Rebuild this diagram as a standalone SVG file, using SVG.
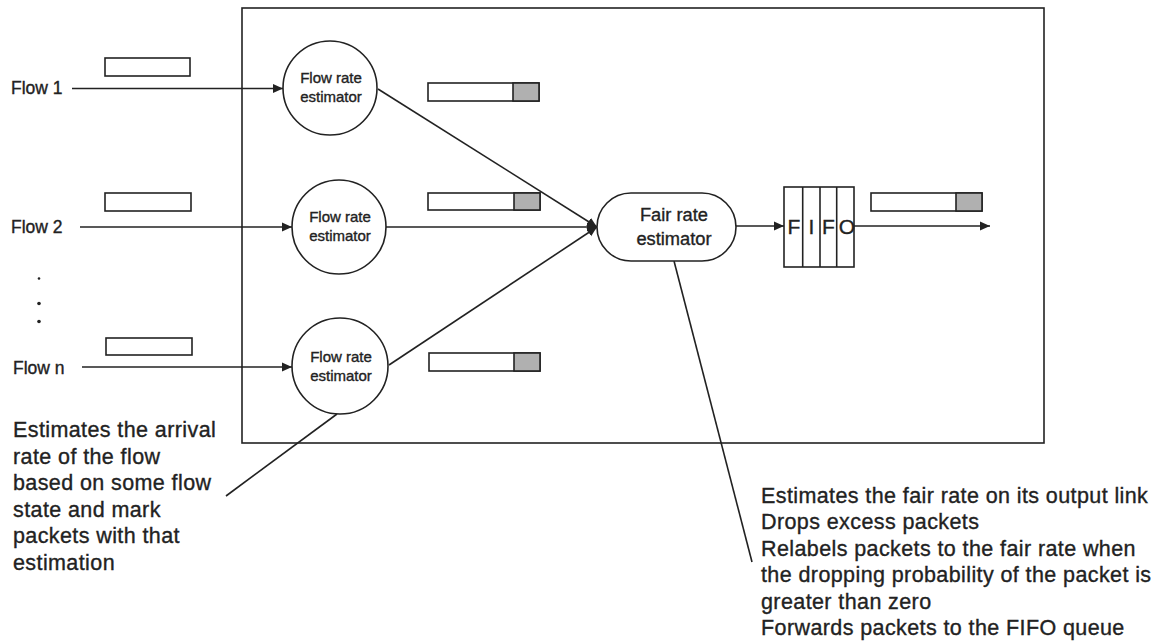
<svg xmlns="http://www.w3.org/2000/svg" width="1164" height="643" viewBox="0 0 1164 643">
<defs>
<marker id="arr" viewBox="0 0 10 10" refX="10" refY="5" markerWidth="10" markerHeight="10" markerUnits="userSpaceOnUse" orient="auto">
<path d="M0,0.5 L10,5 L0,9.5 z" fill="#222"/>
</marker>
</defs>
<style>
.ln{stroke:#222;stroke-width:1.6;fill:none}
.nd{stroke:#222;stroke-width:1.6;fill:#fff}
.pk{stroke:#222;stroke-width:1.6;fill:none}
.sh{stroke:#222;stroke-width:1.6;fill:#b0b0b0}
text{stroke:#222;stroke-width:0.35px}
.ct{font-family:"Liberation Sans",Arial,sans-serif;font-size:15px;fill:#222;text-anchor:middle}
.ft{font-family:"Liberation Sans",Arial,sans-serif;font-size:18.3px;fill:#222;text-anchor:middle}
.fl{font-family:"Liberation Sans",Arial,sans-serif;font-size:17.5px;fill:#222}
.bt{font-family:"Liberation Sans",Arial,sans-serif;font-size:21.5px;letter-spacing:0.4px;fill:#222}
.ff{font-family:"Liberation Sans",Arial,sans-serif;font-size:21px;fill:#222;text-anchor:middle}
</style>
<rect width="1164" height="643" fill="#fff"/>
<g id="router-box">
<rect x="242" y="8" width="802" height="435" class="ln"/>
</g>
<g id="connectors">
<line x1="72" y1="88.5" x2="283" y2="88.5" class="ln" marker-end="url(#arr)"/>
<line x1="80" y1="227" x2="292" y2="227" class="ln" marker-end="url(#arr)"/>
<line x1="82" y1="367" x2="292" y2="367" class="ln" marker-end="url(#arr)"/>
<line x1="378" y1="89" x2="597" y2="227" class="ln" marker-end="url(#arr)"/>
<line x1="386" y1="227" x2="597" y2="227" class="ln" marker-end="url(#arr)"/>
<line x1="389" y1="365" x2="597" y2="227" class="ln" marker-end="url(#arr)"/>
<line x1="736" y1="226" x2="784" y2="226" class="ln" marker-end="url(#arr)"/>
<line x1="854" y1="226" x2="990" y2="226" class="ln" marker-end="url(#arr)"/>
<line x1="674" y1="261" x2="752" y2="562" class="ln"/>
<line x1="337" y1="414" x2="226" y2="496" class="ln"/>
</g>
<g id="flow-labels">
<text x="11" y="94" class="fl">Flow 1</text>
<text x="11" y="233" class="fl">Flow 2</text>
<text x="13" y="374" class="fl">Flow n</text>
<circle cx="39" cy="278.5" r="1.3" fill="#222"/>
<circle cx="39" cy="303.5" r="1.8" fill="#222"/>
<circle cx="39" cy="321.5" r="1.8" fill="#222"/>
</g>
<g id="packets-in">
<rect x="105" y="58" width="85" height="18" class="pk"/>
<rect x="105" y="193" width="86" height="18" class="pk"/>
<rect x="106" y="338" width="86" height="17" class="pk"/>
</g>
<g id="packets-labelled">
<rect x="428" y="83" width="111" height="18" class="pk"/>
<rect x="513" y="83" width="26" height="18" class="sh"/>
<rect x="428" y="193" width="112" height="17" class="pk"/>
<rect x="514" y="193" width="26" height="17" class="sh"/>
<rect x="429" y="353" width="111" height="18" class="pk"/>
<rect x="514" y="353" width="26" height="18" class="sh"/>
<rect x="871" y="193" width="111" height="18" class="pk"/>
<rect x="956" y="193" width="26" height="18" class="sh"/>
</g>
<g id="estimator-1">
<circle cx="330" cy="88" r="47" class="nd"/>
<text x="331" y="83" class="ct">Flow rate</text>
<text x="331" y="102" class="ct">estimator</text>
</g>
<g id="estimator-2">
<circle cx="339" cy="227" r="47" class="nd"/>
<text x="340" y="222" class="ct">Flow rate</text>
<text x="340" y="241" class="ct">estimator</text>
</g>
<g id="estimator-n">
<circle cx="340" cy="366" r="48" class="nd"/>
<text x="341" y="362" class="ct">Flow rate</text>
<text x="341" y="381" class="ct">estimator</text>
</g>
<g id="fair-rate-estimator">
<rect x="597" y="193" width="139" height="68" rx="34" ry="34" class="nd"/>
<text x="674" y="221" class="ft">Fair rate</text>
<text x="674" y="245" class="ft">estimator</text>
</g>
<g id="fifo">
<rect x="784" y="187" width="70" height="80" class="nd"/>
<line x1="802.7" y1="187" x2="802.7" y2="267" class="ln"/>
<line x1="820" y1="187" x2="820" y2="267" class="ln"/>
<line x1="836.7" y1="187" x2="836.7" y2="267" class="ln"/>
<text x="794" y="234" class="ff">F</text>
<text x="811.5" y="234" class="ff">I</text>
<text x="828.5" y="234" class="ff">F</text>
<text x="847" y="234" class="ff">O</text>
</g>
<g id="note-flow-estimator">
<text class="bt"><tspan x="13" y="437">Estimates the arrival</tspan><tspan x="13" y="463.5">rate of the flow</tspan><tspan x="13" y="490">based on some flow</tspan><tspan x="13" y="516.5">state and mark</tspan><tspan x="13" y="543">packets with that</tspan><tspan x="13" y="569.5">estimation</tspan></text>
</g>
<g id="note-fair-estimator">
<text class="bt"><tspan x="761" y="502.5">Estimates the fair rate on its output link</tspan><tspan x="761" y="529">Drops excess packets</tspan><tspan x="761" y="555.5">Relabels packets to the fair rate when</tspan><tspan x="761" y="582">the dropping probability of the packet is</tspan><tspan x="761" y="608.5">greater than zero</tspan><tspan x="761" y="635">Forwards packets to the FIFO queue</tspan></text>
</g>
</svg>
